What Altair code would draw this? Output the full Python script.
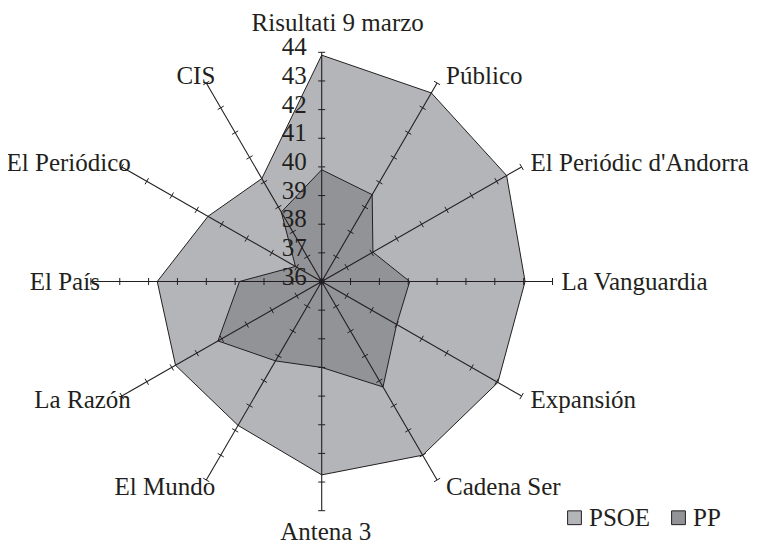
import altair as alt
import pandas as pd

# ---- data ----
outlets = ["Risultati 9 marzo", "Público", "El Periódic d'Andorra", "La Vanguardia",
           "Expansión", "Cadena Ser", "Antena 3", "El Mundo", "La Razón", "El País",
           "El Periódico", "CIS"]
psoe = [43.9, 43.6, 43.4, 43.05, 43.05, 43.0, 42.75, 41.8, 41.85, 41.7, 40.55, 40.15]
pp = [39.9, 39.5, 38.05, 39.05, 39.0, 40.25, 39.0, 39.2, 40.15, 38.85, 37.05, 38.8]
parties = ["PSOE", "PP"]
tick_values = [36, 37, 38, 39, 40, 41, 42, 43, 44]
party_colors = ["#b4b5b9", "#929397"]

# ---- layout constants ----
INK = "#231f20"
FONT = "Liberation Serif"
FS = 25
W, H = 741, 527
KX, KY = 28.85, 28.65          # pixels per unit
CX, CY = 313.7, 273.5          # centre in plot coordinates
RMIN = tick_values[0]
RSPAN = tick_values[-1] - tick_values[0]

xs = alt.Scale(domain=[-CX / KX, (W - CX) / KX], nice=False, zero=False)
ys = alt.Scale(domain=[-(H - CY) / KY, CY / KY], nice=False, zero=False)

poly = pd.DataFrame({
    "outlet": outlets * 2,
    "idx": list(range(len(outlets))) * 2,
    "party": [parties[0]] * len(outlets) + [parties[1]] * len(outlets),
    "value": psoe + pp,
})
spokes = pd.DataFrame({"outlet": outlets, "idx": list(range(len(outlets)))})
ticks = spokes.merge(pd.DataFrame({"tick": tick_values}), how="cross")
nums = pd.DataFrame({"tick": tick_values})

th = f"datum.idx*2*PI/{len(outlets)}"

fill_scale = alt.Scale(domain=parties, range=party_colors)
legend = alt.Legend(title=None, orient="none", legendX=554, legendY=497,
                     direction="horizontal", symbolType="square", symbolSize=190,
                     symbolStrokeColor=INK, symbolStrokeWidth=1,
                     labelFont=FONT, labelFontSize=FS, labelColor=INK,
                     labelOffset=2, columnPadding=15, labelLimit=200)


def polygon(party):
    return alt.Chart(poly).transform_filter(alt.datum.party == party).transform_calculate(
        th=th).transform_calculate(
        px=f"(datum.value-{RMIN})*sin(datum.th)",
        py=f"(datum.value-{RMIN})*cos(datum.th)",
    ).mark_line(interpolate="linear-closed", stroke=INK, strokeWidth=1).encode(
        x=alt.X("px:Q", scale=xs, axis=None),
        y=alt.Y("py:Q", scale=ys, axis=None),
        order=alt.Order("idx:Q"),
        fill=alt.Fill("party:N", scale=fill_scale, legend=legend),
    )


spoke_layer = alt.Chart(spokes).transform_calculate(th=th).transform_calculate(
    x0="0", y0="0",
    x1=f"{RSPAN}*sin(datum.th)", y1=f"{RSPAN}*cos(datum.th)",
).mark_rule(color=INK, strokeWidth=1.1).encode(
    x=alt.X("x0:Q", scale=xs, axis=None), y=alt.Y("y0:Q", scale=ys, axis=None),
    x2="x1:Q", y2="y1:Q",
)

hx, hy = 3.5 / KX, 3.5 / KY
tick_layer = alt.Chart(ticks).transform_calculate(th=th).transform_calculate(
    cx=f"(datum.tick-{RMIN})*sin(datum.th)", cy=f"(datum.tick-{RMIN})*cos(datum.th)",
).transform_calculate(
    tx1=f"datum.cx + {hx}*cos(datum.th)", ty1=f"datum.cy - {hy}*sin(datum.th)",
    tx2=f"datum.cx - {hx}*cos(datum.th)", ty2=f"datum.cy + {hy}*sin(datum.th)",
).mark_rule(color=INK, strokeWidth=1).encode(
    x=alt.X("tx1:Q", scale=xs, axis=None), y=alt.Y("ty1:Q", scale=ys, axis=None),
    x2="tx2:Q", y2="ty2:Q",
)

num_layer = alt.Chart(nums).transform_calculate(
    nx=f"{-15 / KX}", ny=f"datum.tick-{RMIN} - {3 / KY}",
).mark_text(align="right", baseline="alphabetic", font=FONT, fontSize=FS,
            color=INK).encode(
    x=alt.X("nx:Q", scale=xs, axis=None), y=alt.Y("ny:Q", scale=ys, axis=None),
    text="tick:N",
)


def label_layer(side, align, baseline):
    return alt.Chart(spokes).transform_calculate(th=th).transform_calculate(
        s="sin(datum.th)", c="cos(datum.th)",
    ).transform_calculate(
        side="abs(datum.s) < 0.1 ? 'mid' : (datum.s > 0 ? 'right' : 'left')",
    ).transform_filter(alt.datum.side == side).transform_calculate(
        lx=(f"{RSPAN}*datum.s + (datum.side=='right' ? {9 / KX} : "
            f"(datum.side=='left' ? {9 / KX} : (datum.c > 0 ? {16 / KX} : {4 / KX})))"),
        ly=(f"{RSPAN}*datum.c + (datum.side=='mid' ? (datum.c > 0 ? {21 / KY} : {-29 / KY})"
            f" : {8 / KY}*datum.c)"),
    ).mark_text(align=align, baseline=baseline, font=FONT, fontSize=FS,
                color=INK).encode(
        x=alt.X("lx:Q", scale=xs, axis=None), y=alt.Y("ly:Q", scale=ys, axis=None),
        text="outlet:N",
    )


chart = alt.layer(
    polygon(parties[0]),
    polygon(parties[1]),
    spoke_layer,
    tick_layer,
    num_layer,
    label_layer("right", "left", "middle"),
    label_layer("left", "right", "middle"),
    label_layer("mid", "center", "alphabetic"),
).properties(
    width=W, height=H,
    padding={"left": 0, "top": 0, "right": 0, "bottom": 8},
    autosize=alt.AutoSizeParams(type="none"),
    background="white",
).configure_view(stroke=None)

chart.save("out.html", embed_options={"renderer": "svg", "actions": False})
